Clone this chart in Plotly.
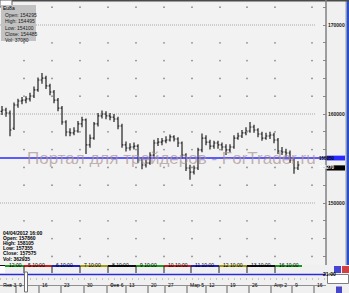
import plotly.graph_objects as go

# ---------------- data ----------------
bar_index = list(range(75))
opens = [160300, 160450, 160110, 158400, 161010, 161460, 161570, 161690, 162020, 162700,
         163820, 164040, 163150, 162470, 161570, 160670, 159100, 157980, 157870, 158090,
         158880, 159330, 156520, 157300, 158880, 159780, 160000, 159780, 159660, 159440,
         158650, 156520, 156180, 156290, 156400, 154830, 154270, 154490, 155390, 156740,
         156850, 156970, 157080, 157420, 157190, 156740, 155390, 153930, 153480, 153930,
         155960, 157300, 156850, 156400, 156740, 156520, 156290, 155960, 156290, 157300,
         157530, 157870, 158090, 158540, 158200, 157750, 157300, 157530, 157640, 157080,
         155840, 155730, 155620, 154830, 153930]
highs = [160900, 160700, 160400, 161300, 161700, 161900, 162000, 162400, 163100, 164100,
         164600, 164300, 163400, 162700, 161800, 160900, 159300, 158400, 158500, 159200,
         159700, 159500, 157700, 159100, 160100, 160400, 160300, 160100, 160000, 159700,
         158900, 156900, 156700, 156800, 156600, 155100, 154900, 155700, 157100, 157300,
         157300, 157500, 157700, 157600, 157400, 156900, 155600, 154300, 154200, 156200,
         157800, 157600, 157100, 157000, 157000, 156800, 156600, 156600, 157600, 157900,
         158200, 158500, 159100, 158800, 158400, 158000, 157900, 158000, 157900, 157300,
         156300, 156100, 155900, 155000, 154700]
lows = [159900, 159700, 157500, 158200, 160700, 161100, 161200, 161400, 161800, 162500,
        163400, 162800, 162100, 161200, 160300, 158800, 157500, 157500, 157600, 157900,
        158500, 155500, 156200, 157100, 158600, 159500, 159400, 159300, 159100, 158300,
        156200, 155800, 155900, 156000, 154500, 153800, 154000, 154300, 155200, 156400,
        156500, 156700, 156900, 156900, 156300, 155000, 153600, 152600, 153200, 153700,
        155700, 156500, 156000, 156100, 156100, 155900, 155400, 155700, 156100, 157100,
        157300, 157600, 157900, 157900, 157400, 157000, 157100, 157200, 156700, 155500,
        155400, 155200, 154500, 153300, 153700]
closes = [160450, 160110, 158200, 161010, 161460, 161570, 161690, 162020, 162700, 163820,
          164040, 163150, 162470, 161570, 160670, 159100, 157980, 157870, 158090, 158880,
          159330, 156520, 157300, 158880, 159780, 160000, 159780, 159660, 159440, 158650,
          156520, 156180, 156290, 156400, 154830, 154270, 154490, 155390, 156740, 156850,
          156970, 157080, 157420, 157190, 156740, 155390, 153930, 153480, 153930, 155960,
          157300, 156850, 156400, 156740, 156520, 156290, 155960, 156290, 157300, 157530,
          157870, 158090, 158540, 158200, 157750, 157300, 157530, 157640, 157080, 155840,
          155730, 155620, 154830, 153930, 154270]

level_price = 155050
last_price = 154270
grid_prices = [172000, 170000, 168000, 166000, 164000, 162000, 160000, 158000, 156000,
               154000, 152000, 150000, 148000, 146000, 144000]
label_prices = [170000, 160000, 150000]
grid_columns = [5.5, 12.5, 19.5, 26.5, 33.5, 40.5, 47.5, 54.5, 61.25, 68.25, 77.5]

info_top = ["Open: 154295", "High: 154495", "Low: 154100", "Close: 154485", "Vol: 37080"]
info_bottom = ["04/04/2012 16:00", "Open: 157860", "High: 158105", "Low: 157355",
               "Close: 157575", "Vol: 362935"]
session_labels = ["12:00", "5 10:00", "6 10:00", "7 10:00", "8 10:00", "9 10:00",
                  "10 10:00", "11 10:00", "12 10:00", "13 10:00", "16 10:00"]
session_colors = ["#1a9a1a", "#c02020", "#2020c0", "#a09a10", "#101010",
                  "#1a9a1a", "#c02020", "#2020c0", "#a09a10", "#101010", "#1a9a1a"]
overview_labels = ["Янв 3", "9", "16", "23", "30", "Фев 6", "13", "20", "27", "Мар 5",
                   "12", "19", "26", "Апр 2", "9", "16"]

# ---------------- layout helpers ----------------
W, H = 349, 293


def px(x):
    return x / W


def py(y):
    return 1 - y / H


PLOT_R = 326
PLOT_T, PLOT_B = 3, 265
Y_TOP = 160000 + (114 - PLOT_T) * 112.36
Y_BOT = 160000 - (PLOT_B - 114) * 112.36
X0, X1 = -0.5, 81.0

fig = go.Figure()

# grid dots
gx, gy = [], []
for p in grid_prices:
    if p in label_prices:
        continue
    for c in grid_columns:
        gx.append(c)
        gy.append(p)
fig.add_trace(go.Scatter(x=gx, y=gy, mode="markers",
                         marker=dict(size=1.8, color="#8c8c8c", line=dict(width=0)),
                         hoverinfo="skip", showlegend=False))

fig.add_trace(go.Ohlc(x=bar_index, open=opens, high=highs, low=lows, close=closes,
                      increasing=dict(line=dict(color="#222222", width=1.2)),
                      decreasing=dict(line=dict(color="#222222", width=1.2)),
                      tickwidth=0.35, showlegend=False, hoverinfo="skip"))

shapes = []
annotations = []

# price level dotted lines
for p in label_prices:
    shapes.append(dict(type="line", xref="paper", yref="y", x0=px(0), x1=px(315),
                       y0=p, y1=p, line=dict(color="#a8a8a8", width=1, dash="1px,1px"),
                       layer="below"))

# blue horizontal level
shapes.append(dict(type="line", xref="paper", yref="y", x0=0, x1=px(PLOT_R),
                   y0=level_price, y1=level_price, line=dict(color="#2a2aff", width=1.5)))

# right panel background and strips
shapes.append(dict(type="rect", xref="paper", yref="paper", x0=px(345), x1=px(346.5),
                   y0=py(265), y1=py(0), fillcolor="#c8c8c8", line=dict(width=0), layer="below"))
shapes.append(dict(type="rect", xref="paper", yref="paper", x0=px(346.5), x1=1,
                   y0=py(265), y1=py(0), fillcolor="#2b4fc6", line=dict(width=0)))
# top border
shapes.append(dict(type="rect", xref="paper", yref="paper", x0=0, x1=1,
                   y0=py(1.5), y1=1, fillcolor="#4a4a4a", line=dict(width=0)))

# watermark
annotations.append(dict(x=px(171), y=py(158), xref="paper", yref="paper",
                        text="Портал для трейдеров - ForTrader.ru", showarrow=False,
                        font=dict(size=17, color="rgba(170,145,145,0.7)",
                                  family="Liberation Sans")))

# price boxes on right axis
shapes.append(dict(type="rect", xref="paper", yref="y", x0=px(326), x1=px(345),
                   y0=level_price - 270, y1=level_price + 270, fillcolor="#2a2aff",
                   line=dict(width=0)))
annotations.append(dict(x=px(337), y=level_price, xref="paper", yref="y",
                        text="<b>155050</b>", showarrow=False,
                        font=dict(size=4.5, color="#000000", family="Liberation Sans")))
shapes.append(dict(type="rect", xref="paper", yref="y", x0=px(326), x1=px(345),
                   y0=last_price - 620, y1=last_price - 40, fillcolor="#000000",
                   line=dict(width=0)))
annotations.append(dict(x=px(337), y=last_price - 330, xref="paper", yref="y",
                        text="<b>%d</b>" % last_price, showarrow=False,
                        font=dict(size=4.5, color="#ffffff", family="Liberation Sans")))

# top-left label and info box
shapes.append(dict(type="rect", xref="paper", yref="paper", x0=0, x1=px(12),
                   y0=py(7), y1=py(0), fillcolor="#ffffff", line=dict(color="#606060", width=1)))
annotations.append(dict(x=px(1), y=py(3.5), xref="paper", yref="paper", text="Eu8a",
                        xanchor="left", showarrow=False,
                        font=dict(size=5, color="#000000", family="Liberation Sans")))
shapes.append(dict(type="rect", xref="paper", yref="paper", x0=px(1), x1=px(36),
                   y0=py(41), y1=py(5), fillcolor="#c2c2c2", line=dict(width=0)))
for i, t in enumerate(info_top):
    annotations.append(dict(x=px(3), y=py(10 + 6.3 * i), xref="paper", yref="paper",
                            text=t, xanchor="left", showarrow=False,
                            font=dict(size=5, color="#1a1a1a", family="Liberation Sans")))

# bottom-left info text
for i, t in enumerate(info_bottom):
    annotations.append(dict(x=px(1), y=py(237.5 + 5.2 * i), xref="paper", yref="paper",
                            text="<b>%s</b>" % t, xanchor="left", showarrow=False,
                            font=dict(size=5, color="#000000", family="Liberation Sans")))

# session bar
cell_starts = [-4, 24, 52, 80, 108, 136, 164, 191, 219, 247, 275]
cell_ends = cell_starts[1:] + [302]
shapes.append(dict(type="line", xref="paper", yref="paper", x0=0, x1=px(5),
                   y0=py(266), y1=py(266), line=dict(color="#101010", width=2)))
for s, e, c, lab in zip(cell_starts, cell_ends, session_colors, session_labels):
    shapes.append(dict(type="line", xref="paper", yref="paper", x0=px(max(s, 5)), x1=px(e),
                       y0=py(266), y1=py(266), line=dict(color=c, width=2)))
    if s > 0:
        shapes.append(dict(type="line", xref="paper", yref="paper", x0=px(s), x1=px(s),
                           y0=py(266), y1=py(273), line=dict(color="#202020", width=1)))
    annotations.append(dict(x=px(max(s, 5) + 2), y=py(270), xref="paper", yref="paper",
                            text=lab, xanchor="left", showarrow=False,
                            font=dict(size=5, color="#000000", family="Liberation Sans")))
shapes.append(dict(type="rect", xref="paper", yref="paper", x0=0, x1=px(5),
                   y0=py(273), y1=py(266), fillcolor="#ffffff", line=dict(width=0)))

# lower overview strip
shapes.append(dict(type="line", xref="paper", yref="paper", x0=0, x1=px(PLOT_R),
                   y0=py(274.5), y1=py(274.5), line=dict(color="#2a2ad8", width=1.5)))
shapes.append(dict(type="line", xref="paper", yref="paper", x0=0, x1=px(PLOT_R),
                   y0=py(279), y1=py(279), line=dict(color="#9a9a9a", width=1, dash="1px,5px")))
shapes.append(dict(type="line", xref="paper", yref="paper", x0=0, x1=px(PLOT_R),
                   y0=py(285.5), y1=py(285.5), line=dict(color="#909090", width=1)))
shapes.append(dict(type="rect", xref="paper", yref="paper", x0=px(24.5), x1=px(27.5),
                   y0=py(292), y1=py(272), fillcolor="#ffffff",
                   line=dict(color="#707070", width=1)))
ov_x = [1, 17, 40, 62, 85, 108, 127, 149, 166, 188, 207, 228, 250, 272, 293, 315]
for xx, lab in zip(ov_x, overview_labels):
    if xx > 5:
        shapes.append(dict(type="line", xref="paper", yref="paper", x0=px(xx - 1), x1=px(xx - 1),
                           y0=py(286), y1=py(293), line=dict(color="#606060", width=1)))
    annotations.append(dict(x=px(xx), y=py(289.5), xref="paper", yref="paper", text=lab,
                            xanchor="left", showarrow=False,
                            font=dict(size=5, color="#000000", family="Liberation Sans")))

# bottom-right widgets
shapes.append(dict(type="rect", xref="paper", yref="paper", x0=px(334), x1=px(341),
                   y0=py(273), y1=py(266), fillcolor="#4646d0", line=dict(width=0)))
shapes.append(dict(type="rect", xref="paper", yref="paper", x0=px(342), x1=px(349),
                   y0=py(273), y1=py(266), fillcolor="#d04040", line=dict(width=0)))
shapes.append(dict(type="rect", xref="paper", yref="paper", x0=px(327.5), x1=px(348.5),
                   y0=py(283.5), y1=py(274.5), fillcolor="#ffffff",
                   line=dict(color="#808080", width=1)))
annotations.append(dict(x=px(338), y=py(279), xref="paper", yref="paper", text="<b>21:00</b>",
                        showarrow=False, font=dict(size=5, color="#000000",
                                                   family="Liberation Sans")))
shapes.append(dict(type="rect", xref="paper", yref="paper", x0=px(336), x1=px(342),
                   y0=py(293), y1=py(286.5), fillcolor="#4646c8", line=dict(width=0)))
# right axis line
shapes.append(dict(type="line", xref="paper", yref="paper", x0=px(PLOT_R), x1=px(PLOT_R),
                   y0=py(265), y1=py(0), line=dict(color="#808080", width=1.5)))

tick_text = [("<b>%d</b>" % p if p in label_prices else "") for p in grid_prices]

fig.update_layout(
    width=W, height=H,
    margin=dict(l=0, r=0, t=0, b=0),
    paper_bgcolor="#f0f0f0",
    plot_bgcolor="#f2f2f2",
    showlegend=False,
    shapes=shapes,
    annotations=annotations,
    xaxis=dict(domain=[0, px(PLOT_R)], range=[X0, X1], showgrid=False, zeroline=False,
               showticklabels=False, ticks="", rangeslider=dict(visible=False),
               fixedrange=True),
    yaxis=dict(domain=[py(PLOT_B), py(PLOT_T)], range=[Y_BOT, Y_TOP], side="right",
               showgrid=False, zeroline=False, tickvals=grid_prices, ticktext=tick_text,
               ticks="inside", ticklen=3, tickcolor="#8a8a8a",
               tickfont=dict(size=5, color="#202020", family="Liberation Sans"),
               ticklabelstandoff=1, fixedrange=True),
)

fig.write_html("out.html")
